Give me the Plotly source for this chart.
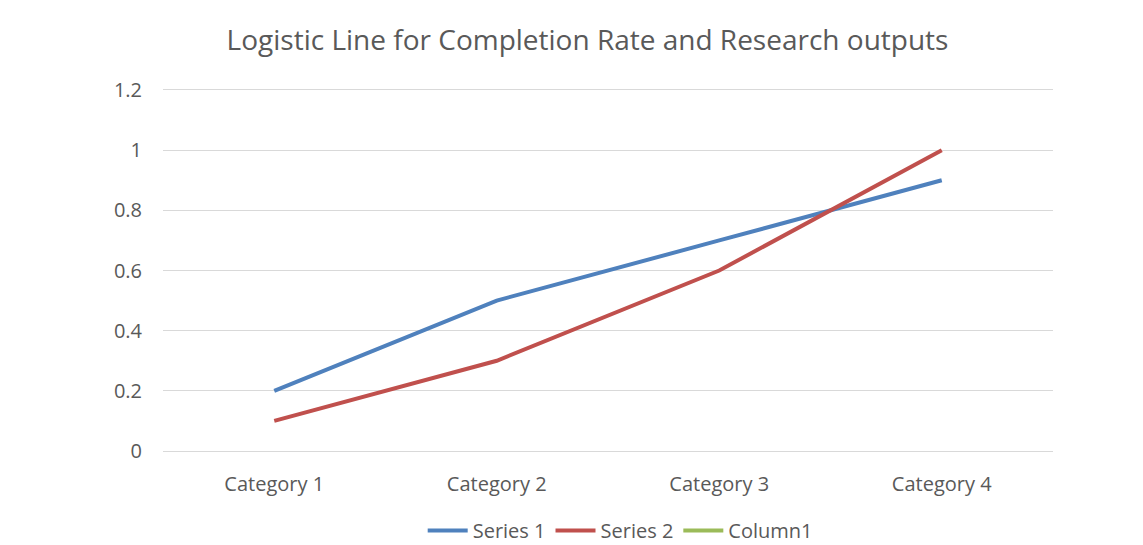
import plotly.graph_objects as go

categories = ["Category 1", "Category 2", "Category 3", "Category 4"]
series1 = [0.2, 0.5, 0.7, 0.9]
series2 = [0.1, 0.3, 0.6, 1.0]
column1 = [None, None, None, None]
y_ticks = [0, 0.2, 0.4, 0.6, 0.8, 1, 1.2]
y_tick_labels = ["0", "0.2", "0.4", "0.6", "0.8", "1", "1.2"]

font_family = "Open Sans, Noto Sans, sans-serif"
text_color = "#595959"
grid_color = "#d9d9d9"

fig = go.Figure()
fig.add_trace(go.Scatter(x=categories, y=series1, mode="lines", name="Series 1",
                         line=dict(color="#4f81bd", width=4)))
fig.add_trace(go.Scatter(x=categories, y=series2, mode="lines", name="Series 2",
                         line=dict(color="#c0504d", width=4)))
fig.add_trace(go.Scatter(x=categories, y=column1, mode="lines", name="Column1",
                         line=dict(color="#9bbb59", width=4)))

# page body has an 8px margin, so the figure is drawn 8px smaller and offset
fig.update_layout(
    width=1135, height=537,
    margin=dict(l=155, r=90, t=82, b=94, autoexpand=False),
    paper_bgcolor="white", plot_bgcolor="white",
    font=dict(family=font_family, color=text_color, size=20),
    title=dict(text="Logistic Line for Completion Rate and Research outputs",
               x=0.5106, xanchor="center", y=1 - 32 / 537, yanchor="middle",
               font=dict(size=28, color=text_color, family=font_family)),
    legend=dict(orientation="h", x=0.5137, xanchor="center", y=-0.22, yanchor="middle",
                font=dict(size=20, color=text_color), itemwidth=40,
                traceorder="normal"),
    showlegend=True,
)
fig.update_xaxes(type="category", range=[-0.5, 3.5], showgrid=False,
                 showline=True, linecolor=grid_color, linewidth=1, mirror=True,
                 zeroline=False, ticks="", ticklabelstandoff=15,
                 tickfont=dict(size=20, color=text_color))
fig.update_yaxes(range=[0, 1.2], tickvals=y_ticks, ticktext=y_tick_labels,
                 showgrid=True, gridcolor=grid_color, gridwidth=1, zeroline=False,
                 showline=False, ticks="", ticklabelstandoff=20,
                 tickfont=dict(size=20, color=text_color))

fig.write_html("out.html")
